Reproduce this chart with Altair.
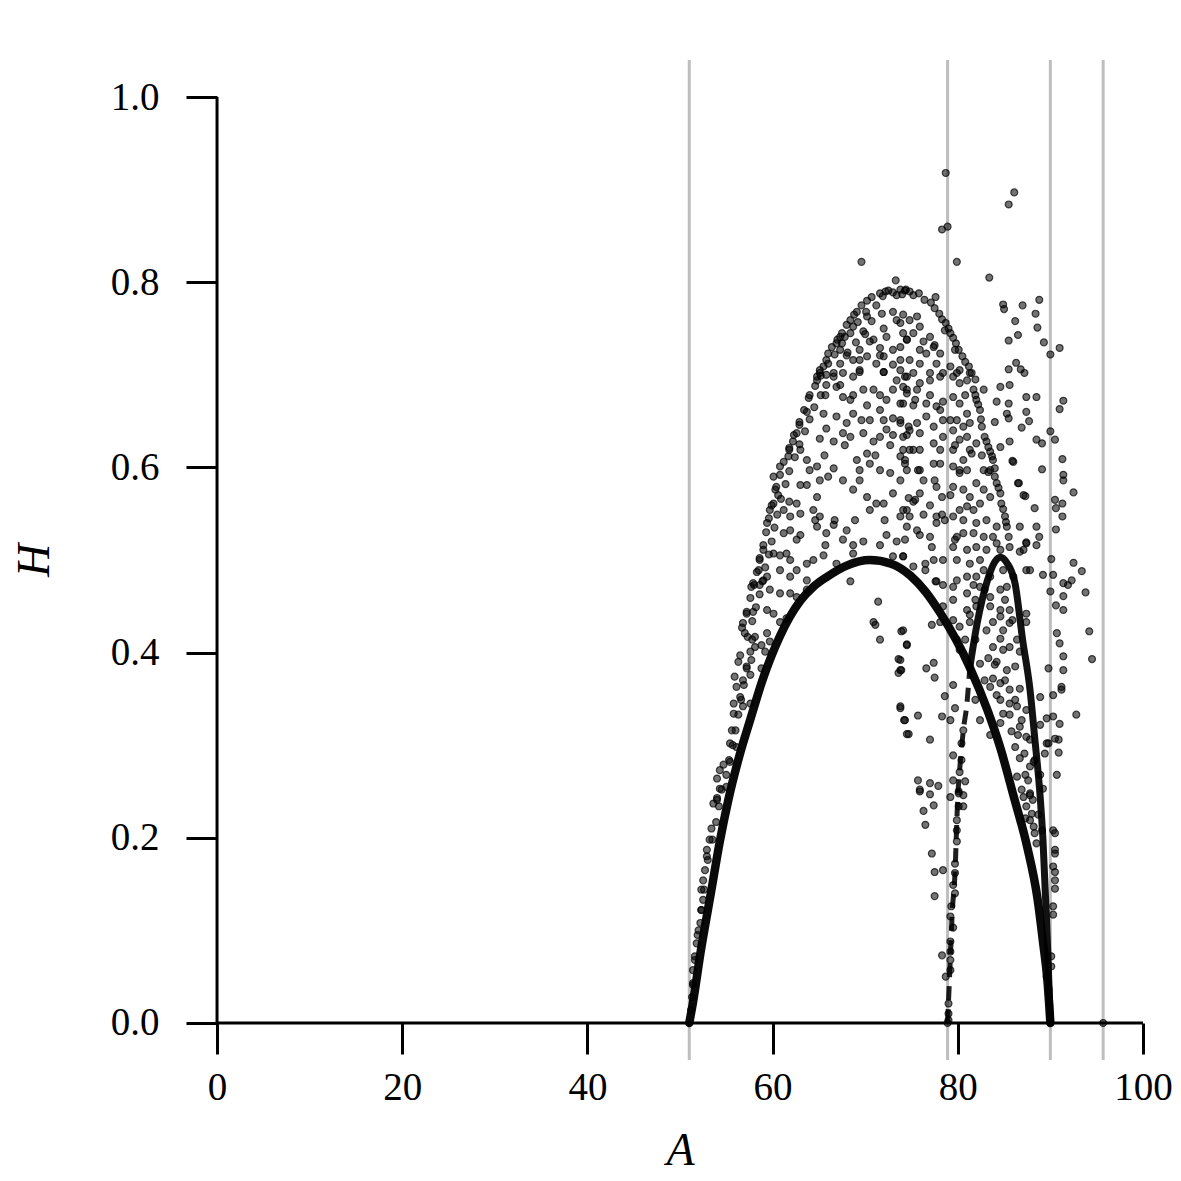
import altair as alt
import pandas as pd

# ---------------- data ----------------
x_ticks = [0, 20, 40, 60, 80, 100]
y_ticks = [0.0, 0.2, 0.4, 0.6, 0.8, 1.0]
vlines = [51.0, 78.9, 90.0, 95.7]

# main curve (dense ridge of points) - first branch
curve1_A = [51.0, 51.4, 52.2, 53.4, 54.3, 55.2, 56.4, 57.6, 58.9, 60.8, 63.0, 64.4, 65.9, 68.0, 70.5,
            72.8, 74.9, 76.5, 78.1, 81.3, 83.2, 84.6, 86.0, 87.5, 88.6, 89.2, 89.7, 90.0]
curve1_H = [0.0, 0.022, 0.075, 0.144, 0.196, 0.240, 0.288, 0.328, 0.370, 0.418, 0.456, 0.471, 0.482, 0.494,
            0.500, 0.496, 0.483, 0.466, 0.443, 0.384, 0.338, 0.297, 0.246, 0.190, 0.135, 0.088, 0.044, 0.0]
# second ridge: solid upper part
curve2_A = [81.3, 82.1, 83.2, 84.0, 84.6, 85.3, 86.2, 87.0, 87.8, 88.3, 88.9, 89.2, 89.6, 90.0]
curve2_H = [0.384, 0.432, 0.478, 0.498, 0.503, 0.497, 0.474, 0.414, 0.360, 0.309, 0.244, 0.198, 0.108, 0.0]
# second ridge: broken lower-left part
curve2b_A = [78.9, 79.2, 79.4, 79.7, 79.9, 80.0, 80.2, 80.6, 81.0, 81.3]
curve2b_H = [0.0, 0.071, 0.119, 0.162, 0.219, 0.244, 0.273, 0.316, 0.346, 0.384]

outliers = [(78.7, 0.918), (86.1, 0.897), (85.5, 0.884), (78.3, 0.857), (78.9, 0.860), (79.9, 0.822),
            (83.4, 0.805), (77.6, 0.784), (84.9, 0.776), (85.0, 0.771), (87.0, 0.775), (88.8, 0.781),
            (88.4, 0.766), (86.2, 0.758), (88.6, 0.751), (86.5, 0.743), (85.5, 0.737), (89.3, 0.735),
            (91.0, 0.729), (90.0, 0.722), (86.3, 0.713), (85.5, 0.706), (86.8, 0.706), (87.2, 0.702),
            (69.6, 0.822), (73.3, 0.802)]

upper_edge = [(71.6, 0.788), (72.2, 0.790), (72.5, 0.791), (73.0, 0.789), (73.8, 0.792), (74.3, 0.791),
              (74.8, 0.790), (70.7, 0.784), (69.6, 0.775), (69.1, 0.768), (68.4, 0.759), (68.0, 0.754),
              (67.5, 0.745), (67.3, 0.741), (66.9, 0.734), (66.4, 0.730), (66.0, 0.723), (65.5, 0.709),
              (65.1, 0.705), (64.8, 0.698), (74.4, 0.792), (75.8, 0.788), (77.1, 0.778), (78.0, 0.766),
              (78.7, 0.756), (79.2, 0.745), (79.8, 0.734), (80.5, 0.720), (81.2, 0.709), (81.9, 0.695),
              (71.9, 0.785), (73.4, 0.786), (74.0, 0.787), (75.2, 0.786), (76.4, 0.781), (77.5, 0.772),
              (78.3, 0.760), (79.0, 0.750), (79.5, 0.740), (80.1, 0.727), (80.8, 0.714), (81.5, 0.702),
              (70.2, 0.780), (68.8, 0.765), (67.0, 0.738), (65.8, 0.716)]

edge_left = [(56.7, 0.427), (57.2, 0.444), (57.6, 0.459), (58.0, 0.473), (58.3, 0.487), (58.6, 0.502),
             (59.0, 0.516), (59.3, 0.530), (59.6, 0.545), (59.9, 0.559), (60.3, 0.576), (60.8, 0.592),
             (61.2, 0.606), (61.8, 0.621), (62.3, 0.635), (62.9, 0.649), (63.4, 0.662), (63.9, 0.675),
             (64.6, 0.688), (65.2, 0.699), (66.0, 0.712), (66.7, 0.722), (67.5, 0.734), (68.4, 0.745),
             (69.2, 0.757), (70.1, 0.768),
             (57.3, 0.417), (57.8, 0.434), (58.2, 0.449), (58.6, 0.463), (58.9, 0.477), (59.2, 0.492),
             (59.6, 0.506), (59.9, 0.520), (60.2, 0.535), (60.5, 0.549), (60.9, 0.566), (61.4, 0.582),
             (61.8, 0.596), (62.4, 0.611), (62.9, 0.625), (63.5, 0.639), (64.0, 0.652), (64.5, 0.665),
             (65.2, 0.678), (65.8, 0.689), (66.6, 0.702), (67.3, 0.712), (68.1, 0.724), (69.0, 0.735),
             (69.8, 0.747), (70.7, 0.758),
             (54.5, 0.252), (55.0, 0.268), (55.3, 0.284), (55.7, 0.300), (56.0, 0.316), (56.3, 0.333),
             (56.6, 0.349), (56.9, 0.365), (57.2, 0.383), (57.6, 0.401), (57.8, 0.414), (53.0, 0.176),
             (53.5, 0.198), (53.9, 0.217), (54.2, 0.234), (52.3, 0.122), (52.6, 0.144), (51.9, 0.095),
             (51.6, 0.068), (51.4, 0.041)]

top_inner = [(71.2, 0.775), (70.2, 0.763), (71.8, 0.766), (72.0, 0.750), (73.0, 0.768), (73.4, 0.759),
             (73.8, 0.756), (74.1, 0.745), (72.3, 0.741), (70.9, 0.738), (70.0, 0.744), (68.7, 0.752),
             (69.4, 0.727), (70.5, 0.736), (71.6, 0.729), (72.0, 0.720), (73.0, 0.727), (73.8, 0.730),
             (74.5, 0.738), (67.8, 0.741), (67.3, 0.727), (68.0, 0.721), (68.7, 0.716), (70.2, 0.720),
             (71.2, 0.712), (69.4, 0.705), (72.0, 0.703), (73.0, 0.711), (73.8, 0.705),
             (74.1, 0.765), (74.8, 0.759), (75.6, 0.763), (75.9, 0.752), (75.2, 0.745), (74.5, 0.738),
             (76.3, 0.736), (77.0, 0.741), (77.4, 0.730), (76.6, 0.723), (78.1, 0.723), (77.7, 0.712),
             (75.9, 0.712), (74.8, 0.716), (78.4, 0.702), (77.0, 0.702), (79.2, 0.709), (79.9, 0.702)]

inner_extra = [(64.0, 0.597), (65.6, 0.613), (67.8, 0.624), (69.4, 0.586), (71.1, 0.613), (72.7, 0.624),
               (74.3, 0.608), (75.9, 0.597), (77.5, 0.586), (68.9, 0.543), (70.5, 0.554), (72.1, 0.543),
               (75.4, 0.565), (77.0, 0.559), (68.4, 0.673), (70.5, 0.651), (71.6, 0.662), (75.4, 0.673),
               (77.0, 0.678), (78.1, 0.662), (65.7, 0.678), (67.3, 0.689), (69.4, 0.716), (71.6, 0.721),
               (73.8, 0.716), (75.9, 0.727), (77.5, 0.732), (78.6, 0.748), (79.7, 0.727), (80.2, 0.705),
               (80.8, 0.678), (79.2, 0.651), (79.7, 0.624), (80.2, 0.597), (79.2, 0.570), (78.6, 0.543),
               (79.7, 0.522), (64.6, 0.543), (63.0, 0.527), (61.9, 0.532), (65.7, 0.516), (66.7, 0.543),
               (60.8, 0.505), (61.9, 0.500),
               (81.9, 0.457), (82.9, 0.468), (85.1, 0.457), (85.9, 0.435), (84.9, 0.424), (84.0, 0.387),
               (85.1, 0.370), (86.2, 0.349), (86.9, 0.327), (87.8, 0.306), (88.3, 0.284), (88.9, 0.268),
               (86.5, 0.311), (85.6, 0.333), (87.3, 0.268), (88.1, 0.241), (88.7, 0.225), (89.1, 0.208),
               (86.9, 0.252), (82.9, 0.370), (81.9, 0.349), (82.4, 0.327), (83.5, 0.311), (84.6, 0.349),
               (81.3, 0.441), (80.2, 0.403), (81.9, 0.414)]

mid_left = [(65.1, 0.702), (65.8, 0.700), (66.6, 0.698), (67.6, 0.702), (68.7, 0.698), (69.4, 0.703),
            (72.0, 0.703), (73.4, 0.694), (74.1, 0.687), (74.5, 0.698), (64.8, 0.694), (66.9, 0.687),
            (67.6, 0.676), (68.7, 0.678), (69.8, 0.684), (70.9, 0.684), (71.6, 0.678), (72.3, 0.673),
            (73.0, 0.684), (73.8, 0.669), (74.5, 0.680),
            (64.0, 0.678), (63.7, 0.660), (62.9, 0.646), (62.6, 0.637), (62.2, 0.628), (61.8, 0.619),
            (65.5, 0.658), (66.9, 0.655), (68.0, 0.648), (65.8, 0.642), (65.1, 0.631), (66.6, 0.628),
            (68.4, 0.633), (69.8, 0.637), (68.7, 0.658), (69.6, 0.651), (70.2, 0.667), (72.0, 0.651),
            (73.0, 0.653), (73.8, 0.648), (72.3, 0.641), (74.1, 0.633), (71.6, 0.633), (70.9, 0.628),
            (67.6, 0.637), (73.0, 0.635), (74.8, 0.640),
            (61.7, 0.612), (60.8, 0.601), (60.1, 0.590), (60.4, 0.579), (60.6, 0.570), (60.1, 0.561),
            (63.0, 0.619), (63.7, 0.608), (64.8, 0.601), (65.1, 0.586), (66.0, 0.590), (66.6, 0.599),
            (67.6, 0.586), (69.1, 0.608), (70.2, 0.615), (70.5, 0.604), (69.4, 0.597), (71.6, 0.597),
            (72.7, 0.594), (73.8, 0.612), (74.5, 0.597), (74.8, 0.619), (68.7, 0.576), (70.2, 0.568),
            (71.2, 0.561), (72.0, 0.561), (73.0, 0.572), (73.8, 0.586), (63.0, 0.581), (63.7, 0.581),
            (64.8, 0.568), (61.8, 0.563), (62.6, 0.561),
            (59.7, 0.554), (59.4, 0.540), (59.0, 0.511), (58.6, 0.500), (58.5, 0.489), (57.9, 0.475),
            (61.2, 0.554), (61.9, 0.547), (63.0, 0.550), (64.4, 0.554), (65.1, 0.547), (64.8, 0.536),
            (65.8, 0.529), (66.6, 0.538), (68.0, 0.532), (67.6, 0.522), (62.6, 0.522), (61.2, 0.529),
            (61.5, 0.507), (60.1, 0.507), (60.8, 0.489), (62.6, 0.489), (63.7, 0.496), (64.4, 0.500),
            (65.5, 0.505), (66.9, 0.496), (68.7, 0.516), (69.8, 0.520), (68.7, 0.507), (71.6, 0.516),
            (72.3, 0.527), (73.4, 0.520), (73.8, 0.547), (74.5, 0.554), (73.0, 0.504), (74.1, 0.504),
            (63.7, 0.478), (61.9, 0.482), (59.4, 0.482)]

low_left = [(57.7, 0.471), (58.6, 0.473), (59.0, 0.478), (59.7, 0.468), (60.8, 0.464), (61.9, 0.464),
            (62.6, 0.460), (63.7, 0.468), (59.4, 0.446), (57.2, 0.442), (57.9, 0.444), (60.1, 0.442),
            (60.8, 0.433), (61.5, 0.437), (56.8, 0.432), (57.0, 0.421), (58.1, 0.417), (59.4, 0.421),
            (59.7, 0.412), (58.8, 0.408), (58.1, 0.406), (59.2, 0.401), (56.5, 0.397), (57.7, 0.392),
            (56.3, 0.390), (57.2, 0.385), (58.8, 0.383), (57.6, 0.376), (55.9, 0.374), (56.8, 0.370),
            (56.1, 0.363), (56.5, 0.352), (55.8, 0.345), (56.8, 0.342), (57.6, 0.345), (55.8, 0.334),
            (55.6, 0.316), (55.4, 0.302), (56.1, 0.298), (54.7, 0.279), (54.3, 0.273), (55.4, 0.282),
            (54.0, 0.264), (54.3, 0.253), (55.0, 0.255), (54.0, 0.243),
            (71.4, 0.455), (70.9, 0.433), (71.1, 0.430), (71.6, 0.414), (73.9, 0.423), (74.5, 0.409),
            (73.6, 0.393), (73.8, 0.381), (73.6, 0.378), (73.8, 0.340), (74.2, 0.327), (74.5, 0.312),
            (68.4, 0.477),
            (53.6, 0.237), (54.0, 0.241), (53.4, 0.210), (53.2, 0.198), (52.9, 0.187), (52.9, 0.180),
            (52.7, 0.165), (52.5, 0.154), (52.3, 0.144), (52.5, 0.133), (52.3, 0.122), (52.2, 0.108),
            (52.0, 0.100), (51.8, 0.086), (51.6, 0.072), (51.4, 0.057), (51.4, 0.043), (51.3, 0.028),
            (51.2, 0.014)]

mid_right = [(74.3, 0.698), (75.2, 0.702), (75.9, 0.691), (77.0, 0.694), (78.1, 0.698), (74.5, 0.684),
             (75.6, 0.684), (76.6, 0.669), (77.7, 0.666), (78.4, 0.671), (74.1, 0.669), (75.2, 0.667),
             (73.8, 0.651), (74.7, 0.644), (75.6, 0.648), (76.6, 0.655), (77.4, 0.644), (78.4, 0.651),
             (74.5, 0.635), (75.9, 0.637), (77.4, 0.626), (78.1, 0.619), (78.4, 0.633), (74.1, 0.619),
             (75.2, 0.619), (75.9, 0.619), (74.3, 0.604), (75.7, 0.597), (77.4, 0.604), (78.1, 0.604),
             (76.3, 0.586), (77.7, 0.579), (75.9, 0.572), (74.7, 0.567), (75.2, 0.563), (78.3, 0.568),
             (74.1, 0.554), (74.8, 0.547), (76.3, 0.549), (77.7, 0.547), (78.3, 0.549), (74.5, 0.536),
             (75.6, 0.532), (75.9, 0.527), (77.0, 0.525), (77.7, 0.540), (74.3, 0.522), (77.2, 0.514),
             (74.1, 0.504), (75.2, 0.493), (76.5, 0.496), (77.4, 0.500), (76.5, 0.489), (77.6, 0.477),
             (78.4, 0.500),
             (81.7, 0.684), (82.0, 0.673), (82.4, 0.662), (82.6, 0.644), (82.9, 0.633), (83.3, 0.622),
             (83.7, 0.612), (83.5, 0.597), (84.2, 0.583), (84.6, 0.572), (84.7, 0.561), (85.1, 0.547),
             (85.3, 0.536), (85.5, 0.525), (85.6, 0.514), (81.9, 0.678), (82.2, 0.668), (82.5, 0.652),
             (83.1, 0.628), (83.5, 0.617), (84.0, 0.590), (84.4, 0.578), (84.9, 0.555), (85.2, 0.541),
             (82.0, 0.626), (81.5, 0.615), (82.6, 0.613), (82.8, 0.597), (83.3, 0.595), (84.0, 0.599),
             (83.8, 0.608),
             (79.5, 0.698), (80.2, 0.691), (81.0, 0.694), (81.3, 0.702), (79.5, 0.676), (80.2, 0.669),
             (81.0, 0.658), (79.9, 0.651), (79.5, 0.640), (80.6, 0.644), (81.3, 0.648), (81.0, 0.633),
             (80.2, 0.630), (79.5, 0.619), (81.3, 0.619), (80.6, 0.608), (79.5, 0.601), (81.0, 0.597),
             (80.2, 0.594), (79.5, 0.579), (80.6, 0.576), (81.3, 0.568), (82.0, 0.583), (82.8, 0.576),
             (83.5, 0.568), (82.4, 0.561), (81.7, 0.554), (81.0, 0.558), (80.2, 0.554), (79.5, 0.547),
             (80.6, 0.543), (82.0, 0.540), (83.1, 0.543), (84.2, 0.536), (83.8, 0.525), (82.8, 0.525),
             (81.7, 0.529), (80.6, 0.529), (79.9, 0.525), (79.5, 0.514), (81.0, 0.511), (82.0, 0.514),
             (83.1, 0.511), (84.6, 0.511), (84.2, 0.518), (79.9, 0.500), (81.3, 0.496), (82.4, 0.500),
             (82.8, 0.489), (83.5, 0.482), (82.0, 0.482), (81.0, 0.482), (79.9, 0.478), (84.6, 0.687),
             (84.2, 0.671), (85.5, 0.669), (85.3, 0.658), (85.5, 0.653), (84.0, 0.649), (84.6, 0.622),
             (85.6, 0.628), (86.0, 0.606), (86.5, 0.583), (87.1, 0.570), (86.7, 0.536), (87.4, 0.518),
             (87.1, 0.511), (87.4, 0.489), (86.0, 0.482), (84.9, 0.489), (85.6, 0.689), (82.8, 0.684),
             (87.4, 0.676), (88.5, 0.676), (87.4, 0.660), (87.7, 0.650), (86.9, 0.643), (88.5, 0.630),
             (89.1, 0.626), (85.9, 0.607), (89.1, 0.598), (86.6, 0.583), (87.3, 0.569), (88.3, 0.556),
             (88.5, 0.536), (88.8, 0.525), (87.4, 0.519), (86.7, 0.509), (88.5, 0.516), (91.4, 0.672),
             (91.0, 0.663), (90.0, 0.639), (90.5, 0.630), (91.3, 0.609), (91.4, 0.592), (91.4, 0.586),
             (92.5, 0.573), (90.5, 0.565), (91.3, 0.561), (90.6, 0.556), (91.3, 0.547), (90.6, 0.533),
             (90.1, 0.501), (92.5, 0.497), (93.4, 0.488), (87.8, 0.489), (89.2, 0.484), (90.3, 0.484),
             (91.4, 0.475), (92.3, 0.478)]

low_right = [(74.1, 0.424), (74.5, 0.408), (73.8, 0.392), (73.9, 0.381), (76.6, 0.383), (77.4, 0.389),
             (77.5, 0.373), (77.2, 0.430), (78.1, 0.433), (78.4, 0.450), (73.8, 0.342), (74.3, 0.327),
             (74.7, 0.312), (75.7, 0.332), (77.0, 0.306), (78.3, 0.331), (78.6, 0.353), (75.7, 0.262),
             (75.9, 0.252), (77.0, 0.259), (77.9, 0.256), (77.7, 0.477), (78.4, 0.473),
             (79.5, 0.471), (81.0, 0.464), (81.7, 0.473), (82.4, 0.471), (83.5, 0.460), (84.6, 0.468),
             (85.3, 0.471), (79.5, 0.457), (81.0, 0.446), (82.0, 0.450), (83.5, 0.450), (84.6, 0.446),
             (85.6, 0.446), (87.4, 0.442), (79.5, 0.435), (80.2, 0.428), (81.3, 0.433), (83.1, 0.424),
             (83.8, 0.433), (84.6, 0.439), (85.6, 0.432), (87.4, 0.433), (79.9, 0.414), (80.8, 0.414),
             (83.8, 0.406), (84.6, 0.415), (84.9, 0.403), (85.6, 0.406), (86.4, 0.414), (86.7, 0.401),
             (82.4, 0.388), (83.3, 0.394), (84.2, 0.390), (85.3, 0.381), (86.2, 0.385), (83.8, 0.372),
             (83.5, 0.363), (84.6, 0.367), (85.6, 0.360), (86.7, 0.361), (84.2, 0.354), (85.6, 0.345),
             (86.4, 0.342), (84.9, 0.334), (87.4, 0.338), (84.6, 0.324), (85.8, 0.315), (86.7, 0.320),
             (87.4, 0.309), (86.2, 0.298), (87.2, 0.291), (86.7, 0.286), (87.8, 0.277), (86.4, 0.266),
             (87.6, 0.262), (79.5, 0.365), (79.2, 0.327), (79.7, 0.340), (80.6, 0.316), (80.4, 0.302),
             (79.5, 0.289), (80.4, 0.284), (80.2, 0.271), (79.5, 0.262), (80.1, 0.250), (80.8, 0.261),
             (88.9, 0.352), (89.6, 0.329), (88.9, 0.322), (89.6, 0.302), (89.4, 0.291), (88.2, 0.282),
             (89.2, 0.253), (87.8, 0.248),
             (90.0, 0.466), (91.4, 0.461), (91.9, 0.473), (90.6, 0.451), (91.4, 0.446), (90.7, 0.421),
             (91.0, 0.410), (91.4, 0.396), (91.4, 0.381), (91.2, 0.363), (91.2, 0.360), (90.3, 0.354),
             (89.8, 0.383), (93.8, 0.465), (94.2, 0.423), (94.5, 0.393), (92.8, 0.333), (90.3, 0.331),
             (91.0, 0.323), (90.5, 0.307), (90.9, 0.306), (90.9, 0.292), (89.8, 0.302), (90.7, 0.268)]

bottom = [(75.9, 0.250), (77.0, 0.247), (77.4, 0.235), (76.3, 0.229), (76.5, 0.214), (77.2, 0.183),
          (77.5, 0.163), (77.5, 0.137), (78.4, 0.165),
          (79.2, 0.244), (80.1, 0.248), (80.6, 0.246), (80.1, 0.234), (80.6, 0.234), (79.9, 0.219),
          (79.9, 0.208), (79.9, 0.196), (79.7, 0.172), (79.7, 0.162), (79.5, 0.149), (79.7, 0.140),
          (79.3, 0.126), (79.2, 0.115), (79.5, 0.103), (79.2, 0.088), (79.2, 0.077), (78.3, 0.073),
          (79.2, 0.068), (79.2, 0.057), (78.7, 0.050), (79.0, 0.021), (79.0, 0.010), (79.0, 0.003),
          (87.1, 0.244), (87.8, 0.246), (87.4, 0.234), (88.0, 0.226), (87.3, 0.221), (88.2, 0.212),
          (88.3, 0.205), (88.5, 0.194), (90.3, 0.208), (90.5, 0.205), (90.5, 0.187), (90.5, 0.183),
          (90.3, 0.169), (90.5, 0.163), (90.5, 0.154), (90.5, 0.145), (90.3, 0.126), (90.3, 0.117),
          (90.1, 0.072), (90.1, 0.061), (89.6, 0.050), (89.8, 0.036), (87.8, 0.219),
          (78.9, 0.0), (90.0, 0.0), (95.7, 0.0)]

# ---------------- tables ----------------
pts = (outliers + upper_edge + edge_left + top_inner + inner_extra + mid_left + low_left
       + mid_right + low_right + bottom)
df_pts = pd.DataFrame(pts, columns=["A", "H"])
df_c1 = pd.DataFrame({"A": curve1_A, "H": curve1_H})
df_c2 = pd.DataFrame({"A": curve2_A, "H": curve2_H})
df_c2b = pd.DataFrame({"A": curve2b_A, "H": curve2b_H})
df_v = pd.DataFrame({"A": vlines})
df_xdom = pd.DataFrame({"A": [x_ticks[0]], "A2": [x_ticks[-1]], "H": [y_ticks[0]]})
df_ydom = pd.DataFrame({"A": [x_ticks[0]], "H": [y_ticks[0]], "H2": [y_ticks[-1]]})

FONT = "Liberation Serif"
PLOT_W = 985
xs = alt.Scale(domain=[-4, -4 + PLOT_W * 108 / 1000], nice=False, zero=False)
ys = alt.Scale(domain=[-0.04, 1.04], nice=False, zero=False)

x_axis = alt.Axis(values=x_ticks, offset=-37, domain=False, grid=False, tickSize=31, tickWidth=3,
                  tickColor="black", labelFont=FONT, labelFontSize=39, labelColor="black",
                  labelPadding=14, labelFlush=False, format="d", title="A", titleFont=FONT,
                  titleFontSize=46, titleFontStyle="italic", titleFontWeight="normal",
                  titleColor="black", titleX=500, titleY=141, titleBaseline="alphabetic",
                  titleAlign="center")
y_axis = alt.Axis(values=y_ticks, offset=-37, domain=False, grid=False, tickSize=31, tickWidth=3,
                  tickColor="black", labelFont=FONT, labelFontSize=39, labelColor="black",
                  labelPadding=27, labelFlush=False, format=".1f", title="H", titleFont=FONT,
                  titleFontSize=46, titleFontStyle="italic", titleFontWeight="normal",
                  titleColor="black", titlePadding=52)

X = alt.X("A:Q", scale=xs, axis=x_axis)
Y = alt.Y("H:Q", scale=ys, axis=y_axis)

vl = alt.Chart(df_v).mark_rule(color="#bebebe", strokeWidth=3).encode(x=X)
dots = alt.Chart(df_pts).mark_point(filled=True, shape="circle", size=48, fill="black", fillOpacity=0.55,
                                    stroke="black", strokeOpacity=0.7, strokeWidth=1.2).encode(x=X, y=Y)
c1 = alt.Chart(df_c1).mark_line(color="black", strokeWidth=8.5, opacity=0.96, strokeCap="round",
                                 interpolate="monotone").encode(x=X, y=Y, order="A:Q")
c2 = alt.Chart(df_c2).mark_line(color="black", strokeWidth=7, opacity=0.93, strokeCap="round",
                                 interpolate="monotone").encode(x=X, y=Y, order="A:Q")
c2b = alt.Chart(df_c2b).mark_line(color="black", strokeWidth=5, opacity=0.88, strokeDash=[14, 9],
                                  interpolate="monotone").encode(x=X, y=Y, order="A:Q")
xdom = alt.Chart(df_xdom).mark_rule(color="black", strokeWidth=3).encode(x=X, x2="A2:Q", y=Y)
ydom = alt.Chart(df_ydom).mark_rule(color="black", strokeWidth=3).encode(x=X, y=Y, y2="H2:Q")

chart = alt.layer(vl, dots, c1, c2, c2b, xdom, ydom).properties(
    width=PLOT_W, height=1000,
    autosize=alt.AutoSizeParams(type="none"),
    padding={"left": 172, "top": 52, "right": 8, "bottom": 113},
).configure(background="white").configure_view(stroke=None, strokeWidth=0)

chart.save("out.html", embed_options={"renderer": "svg", "actions": False})
